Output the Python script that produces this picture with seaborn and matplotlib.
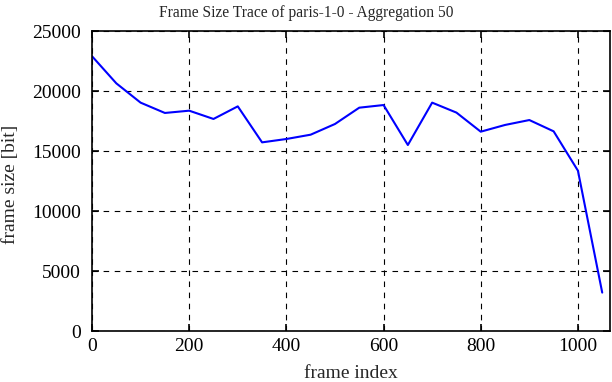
import matplotlib
matplotlib.use('Agg')
import matplotlib.pyplot as plt
import seaborn as sns
import pandas as pd

# frame index and aggregated frame size
frame_index = [0, 50, 100, 150, 200, 250, 300, 350, 400, 450, 500, 550,
               600, 650, 700, 750, 800, 850, 900, 950, 1000, 1050]
frame_size = [22900, 20640, 19030, 18170, 18360, 17670, 18720, 15720, 16000,
              16360, 17250, 18610, 18830, 15500, 19030, 18200, 16610, 17170,
              17580, 16640, 13360, 3200]
x_ticks = [0, 200, 400, 600, 800, 1000]
y_ticks = [0, 5000, 10000, 15000, 20000, 25000]

df = pd.DataFrame({'frame index': frame_index, 'frame size [bit]': frame_size})

sns.set_style('ticks')
plt.rcParams['font.family'] = ['Liberation Serif', 'DejaVu Serif']

fig = plt.figure(figsize=(6.12, 3.82), dpi=100)
ax = fig.add_axes([92 / 612, 1 - 331 / 382, (610 - 92) / 612, 300 / 382])

sns.lineplot(data=df, x='frame index', y='frame size [bit]', color='#0000ff',
             linewidth=1.5, ax=ax)

ax.set_xlim(0, 1066)
ax.set_ylim(0, 25000)
ax.set_xticks(x_ticks)
ax.set_yticks(y_ticks)
ax.grid(True, color='black', linestyle=(0, (5, 5)), linewidth=0.8)
for s in ax.spines.values():
    s.set_linewidth(1.2)
    s.set_color('black')
ax.tick_params(direction='in', top=True, right=True, length=5, width=1.2,
               labelsize=14, colors='black')
ax.tick_params(axis='y', pad=8)
ax.tick_params(axis='x', pad=5)
ax.set_xlabel('frame index', fontsize=14)
ax.set_ylabel('frame size [bit]', fontsize=14)
ax.xaxis.set_label_coords(0.5, -0.115)
ax.yaxis.set_label_coords(-0.14, 0.49)
fig.text(0.5, 0.965, 'Frame Size Trace of paris-1-0 - Aggregation 50',
         fontsize=11.2, ha='center', va='center')

fig.savefig('out.png', dpi=100)
